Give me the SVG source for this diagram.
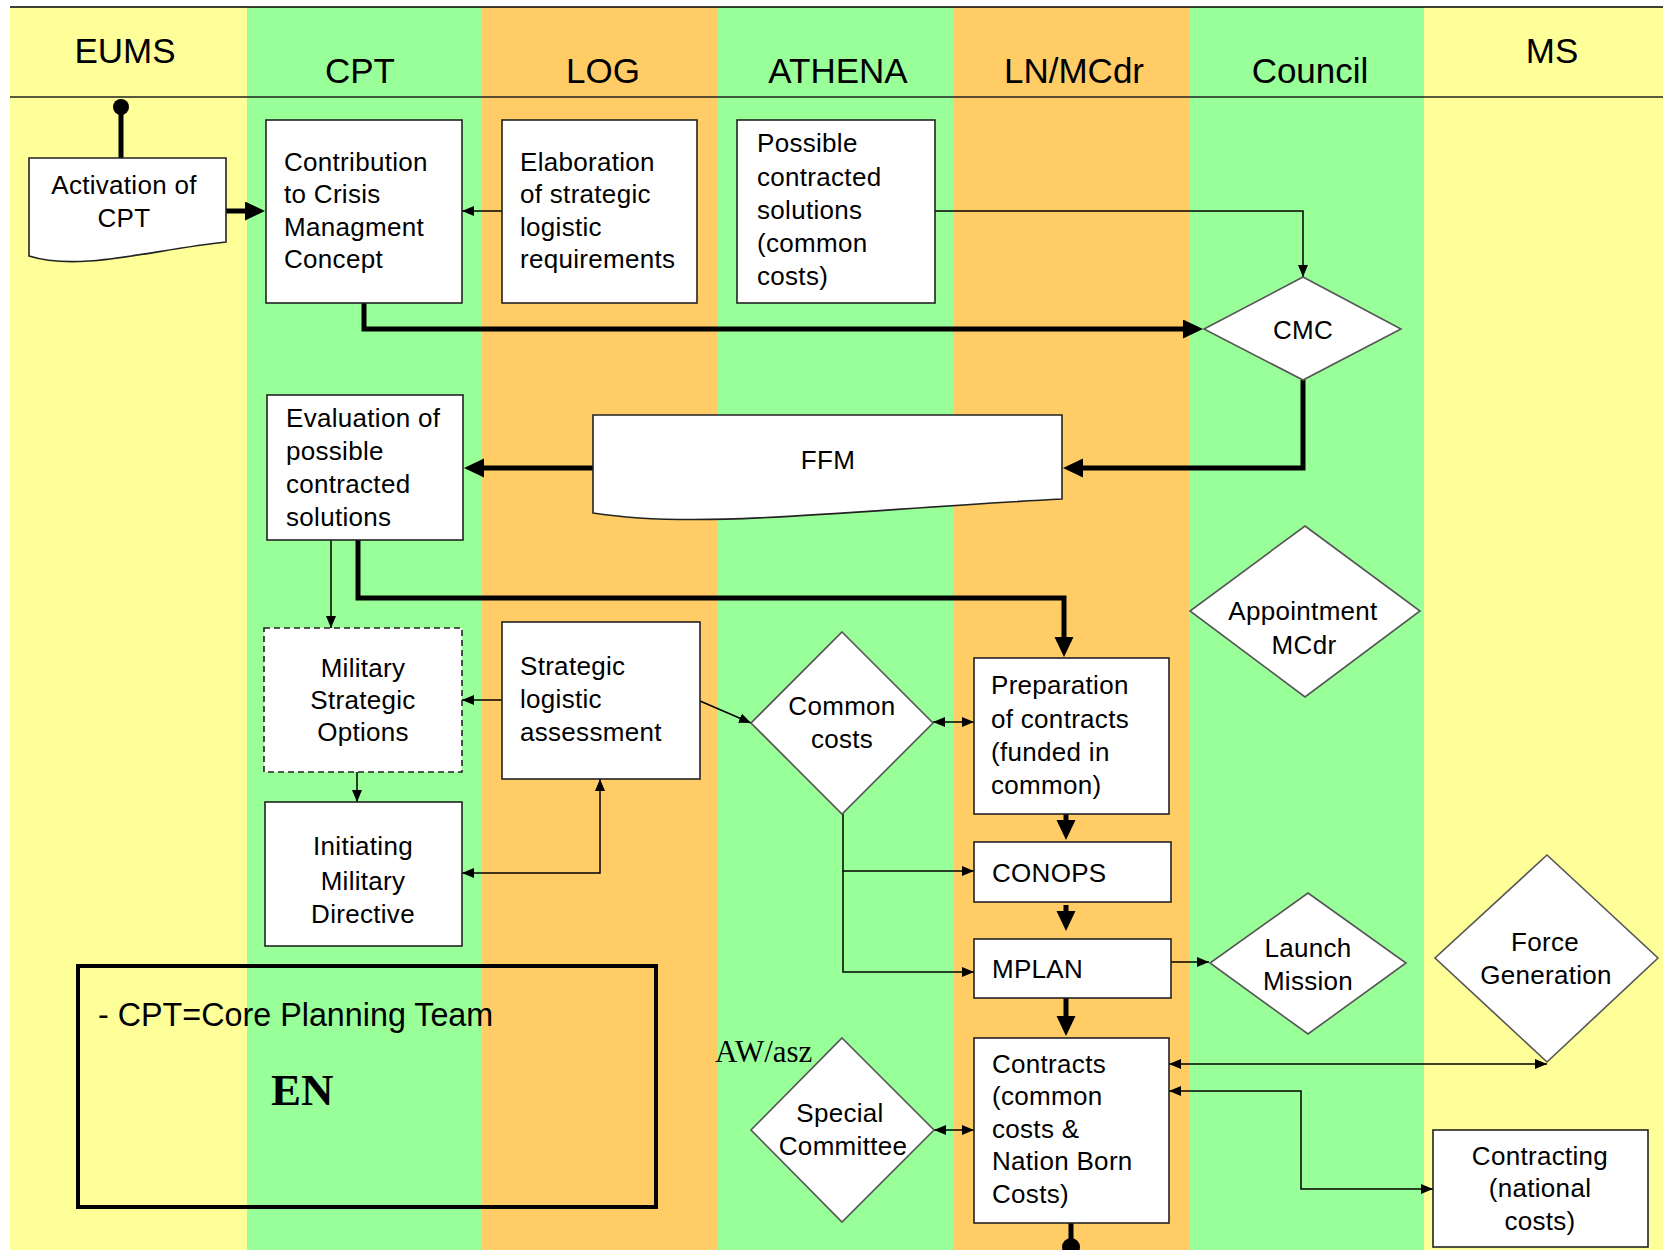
<svg xmlns="http://www.w3.org/2000/svg" width="1663" height="1250" viewBox="0 0 1663 1250">
<style>
text{font-family:"Liberation Sans",Arial,sans-serif;fill:#000}
.hd{font-size:35px}
.t{font-size:26px;letter-spacing:0.3px}
.c{text-anchor:middle}
.box{fill:#fff;stroke:#222;stroke-width:1.6}
.dia{fill:#fff;stroke:#555;stroke-width:1.6}
.thick{fill:none;stroke:#000;stroke-width:5}
.thin{fill:none;stroke:#000;stroke-width:1.5}
</style>
<defs>
<marker id="big" markerUnits="userSpaceOnUse" markerWidth="22" markerHeight="20" refX="1" refY="9.5" orient="auto"><path d="M0,0 L20,9.5 L0,19 z" fill="#000"/></marker>
<marker id="sm" markerUnits="userSpaceOnUse" markerWidth="13" markerHeight="11" refX="12" refY="5" orient="auto-start-reverse"><path d="M0,0 L12,5 L0,10 z" fill="#000"/></marker>
</defs>
<g id="lanes">
<rect x="10" y="7" width="237" height="1243" fill="#FFFF99"/>
<rect x="247" y="7" width="235" height="1243" fill="#99FF99"/>
<rect x="482" y="7" width="236" height="1243" fill="#FFCC66"/>
<rect x="718" y="7" width="235" height="1243" fill="#99FF99"/>
<rect x="953" y="7" width="236" height="1243" fill="#FFCC66"/>
<rect x="1189" y="7" width="235" height="1243" fill="#99FF99"/>
<rect x="1424" y="7" width="239" height="1243" fill="#FFFF99"/>
<line x1="10" y1="7" x2="1663" y2="7" stroke="#000" stroke-width="1.5"/>
<line x1="10" y1="97" x2="1663" y2="97" stroke="#222" stroke-width="1.5"/>
<text class="hd c" x="125" y="63">EUMS</text>
<text class="hd c" x="360" y="83">CPT</text>
<text class="hd c" x="603" y="83">LOG</text>
<text class="hd c" x="838" y="83">ATHENA</text>
<text class="hd c" x="1074" y="83">LN/MCdr</text>
<text class="hd c" x="1310" y="83">Council</text>
<text class="hd c" x="1552" y="63">MS</text>
</g>
<g id="connectors">
<line class="thick" x1="121" y1="107" x2="121" y2="158"/>
<circle cx="121" cy="107" r="8" fill="#000"/>
<path class="thick" d="M226,211 H246" marker-end="url(#big)"/>
<path class="thick" d="M364,303 V329 H1184" marker-end="url(#big)"/>
<path class="thick" d="M1303,380 V468 H1082" marker-end="url(#big)"/>
<path class="thick" d="M593,468 H483" marker-end="url(#big)"/>
<path class="thick" d="M358,540 V598 H1064 V638" marker-end="url(#big)"/>
<path class="thick" d="M1066,814 V821" marker-end="url(#big)"/>
<path class="thick" d="M1066,905 V912" marker-end="url(#big)"/>
<path class="thick" d="M1066,998 V1017" marker-end="url(#big)"/>
<line class="thick" x1="1071" y1="1223" x2="1071" y2="1247"/>
<circle cx="1071" cy="1247" r="9" fill="#000"/>
<path class="thin" d="M502,211 H462" marker-end="url(#sm)"/>
<path class="thin" d="M935,211 H1303 V277" marker-end="url(#sm)"/>
<path class="thin" d="M331,540 V628" marker-end="url(#sm)"/>
<path class="thin" d="M502,700 H462" marker-end="url(#sm)"/>
<path class="thin" d="M700,701 L751,723" marker-end="url(#sm)"/>
<path class="thin" d="M933,722 H974" marker-start="url(#sm)" marker-end="url(#sm)"/>
<path class="thin" d="M462,873 H600 V779" marker-start="url(#sm)" marker-end="url(#sm)"/>
<path class="thin" d="M357,772 V802" marker-end="url(#sm)"/>
<path class="thin" d="M843,814 V871 H974" marker-end="url(#sm)"/>
<path class="thin" d="M843,871 V972 H974" marker-end="url(#sm)"/>
<path class="thin" d="M1171,962 H1209" marker-end="url(#sm)"/>
<path class="thin" d="M1169,1064 H1547" marker-start="url(#sm)" marker-end="url(#sm)"/>
<path class="thin" d="M1169,1091 H1301 V1189 H1433" marker-start="url(#sm)" marker-end="url(#sm)"/>
<path class="thin" d="M934,1130 H974" marker-start="url(#sm)" marker-end="url(#sm)"/>
</g>
<g id="activation">
<path class="box" d="M29,158 H226 V242 C150,250 80,272 29,256 Z"/>
<text class="t c" x="124" y="194">Activation of</text>
<text class="t c" x="124" y="227">CPT</text>
</g>
<g id="contribution">
<rect class="box" x="266" y="120" width="196" height="183"/>
<text class="t" x="284" y="171">Contribution</text>
<text class="t" x="284" y="203">to Crisis</text>
<text class="t" x="284" y="236">Managment</text>
<text class="t" x="284" y="268">Concept</text>
</g>
<g id="elaboration">
<rect class="box" x="502" y="120" width="195" height="183"/>
<text class="t" x="520" y="171">Elaboration</text>
<text class="t" x="520" y="203">of strategic</text>
<text class="t" x="520" y="236">logistic</text>
<text class="t" x="520" y="268">requirements</text>
</g>
<g id="possible">
<rect class="box" x="737" y="120" width="198" height="183"/>
<text class="t" x="757" y="152">Possible</text>
<text class="t" x="757" y="186">contracted</text>
<text class="t" x="757" y="219">solutions</text>
<text class="t" x="757" y="252">(common</text>
<text class="t" x="757" y="285">costs)</text>
</g>
<g id="cmc">
<polygon class="dia" points="1303,277 1401,329 1303,380 1204,329"/>
<text class="t c" x="1303" y="339">CMC</text>
</g>
<g id="ffm">
<path class="box" d="M593,415 H1062 V499 C850,510 700,530 593,513 Z"/>
<text class="t c" x="828" y="469">FFM</text>
</g>
<g id="evaluation">
<rect class="box" x="267" y="395" width="196" height="145"/>
<text class="t" x="286" y="427">Evaluation of</text>
<text class="t" x="286" y="460">possible</text>
<text class="t" x="286" y="493">contracted</text>
<text class="t" x="286" y="526">solutions</text>
</g>
<g id="mso">
<rect class="box" x="264" y="628" width="198" height="144" stroke-dasharray="6,4"/>
<text class="t c" x="363" y="677">Military</text>
<text class="t c" x="363" y="709">Strategic</text>
<text class="t c" x="363" y="741">Options</text>
</g>
<g id="strategic">
<rect class="box" x="502" y="622" width="198" height="157"/>
<text class="t" x="520" y="675">Strategic</text>
<text class="t" x="520" y="708">logistic</text>
<text class="t" x="520" y="741">assessment</text>
</g>
<g id="commoncosts">
<polygon class="dia" points="842,632 933,723 842,814 751,723"/>
<text class="t c" x="842" y="715">Common</text>
<text class="t c" x="842" y="748">costs</text>
</g>
<g id="preparation">
<rect class="box" x="974" y="658" width="195" height="156"/>
<text class="t" x="991" y="694">Preparation</text>
<text class="t" x="991" y="728">of contracts</text>
<text class="t" x="991" y="761">(funded in</text>
<text class="t" x="991" y="794">common)</text>
</g>
<g id="appointment">
<polygon class="dia" points="1305,526 1420,611 1305,697 1190,611"/>
<text class="t c" x="1303" y="620">Appointment</text>
<text class="t c" x="1304" y="654">MCdr</text>
</g>
<g id="initiating">
<rect class="box" x="265" y="802" width="197" height="144"/>
<text class="t c" x="363" y="855">Initiating</text>
<text class="t c" x="363" y="890">Military</text>
<text class="t c" x="363" y="923">Directive</text>
</g>
<g id="conops">
<rect class="box" x="974" y="842" width="197" height="60"/>
<text class="t" x="992" y="882">CONOPS</text>
</g>
<g id="mplan">
<rect class="box" x="974" y="939" width="197" height="59"/>
<text class="t" x="992" y="978">MPLAN</text>
</g>
<g id="launch">
<polygon class="dia" points="1308,893 1406,963 1308,1034 1210,963"/>
<text class="t c" x="1308" y="957">Launch</text>
<text class="t c" x="1308" y="990">Mission</text>
</g>
<g id="force">
<polygon class="dia" points="1547,855 1658,958 1547,1062 1435,958"/>
<text class="t c" x="1545" y="951">Force</text>
<text class="t c" x="1546" y="984">Generation</text>
</g>
<g id="contracts">
<rect class="box" x="974" y="1038" width="195" height="185"/>
<text class="t" x="992" y="1073">Contracts</text>
<text class="t" x="992" y="1105">(common</text>
<text class="t" x="992" y="1138">costs &amp;</text>
<text class="t" x="992" y="1170">Nation Born</text>
<text class="t" x="992" y="1203">Costs)</text>
</g>
<g id="special">
<polygon class="dia" points="842,1038 934,1130 842,1222 751,1130"/>
<text class="t c" x="840" y="1122">Special</text>
<text class="t c" x="843" y="1155">Committee</text>
</g>
<g id="contracting">
<rect class="box" x="1433" y="1130" width="215" height="117"/>
<text class="t c" x="1540" y="1165">Contracting</text>
<text class="t c" x="1540" y="1197">(national</text>
<text class="t c" x="1540" y="1230">costs)</text>
</g>
<g id="legend">
<rect x="78" y="966" width="578" height="241" fill="none" stroke="#000" stroke-width="4"/>
<text x="98" y="1026" style="font-size:32.3px">- CPT=Core Planning Team</text>
<text x="271" y="1105" style="font-family:'Liberation Serif','Times New Roman',serif;font-size:45px;font-weight:bold">EN</text>
</g>
<text x="715" y="1062" style="font-family:'Liberation Serif','Times New Roman',serif;font-size:31px">AW/asz</text>
</svg>
